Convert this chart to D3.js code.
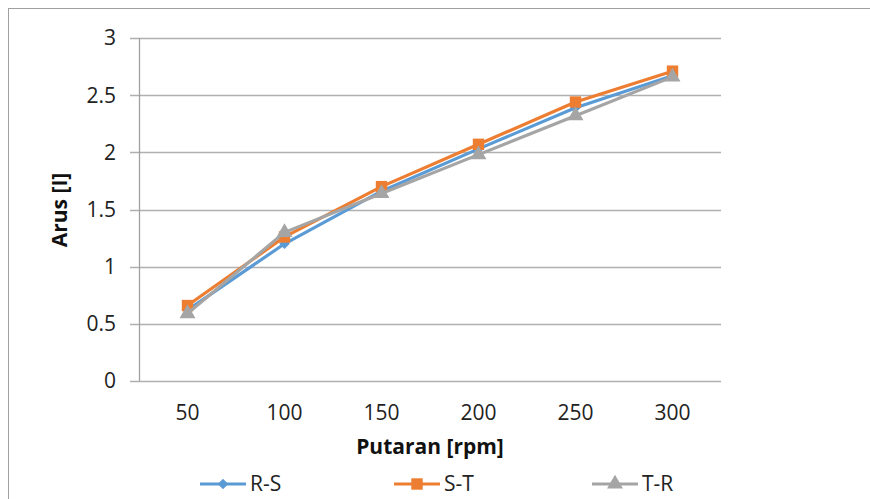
<!DOCTYPE html>
<html>
<head>
<meta charset="utf-8">
<script src="https://cdn.jsdelivr.net/npm/d3@7"></script>
<style>
  body { margin: 0; background: #fff; }
  svg { display: block; font-family: "Open Sans", "Noto Sans", sans-serif; }
</style>
</head>
<body>
<svg id="chart" width="870" height="499"></svg>
<script>
// x categories (rpm) and the three measured series
var putaran = ["50", "100", "150", "200", "250", "300"];
var rs = [0.62, 1.20, 1.66, 2.03, 2.39, 2.67];
var st = [0.66, 1.26, 1.70, 2.07, 2.44, 2.71];
var tr = [0.59, 1.30, 1.64, 1.98, 2.32, 2.66];
var yTicks = [0, 0.5, 1, 1.5, 2, 2.5, 3];

var series = [
  { name: "R-S", values: rs, color: "#5B9BD5", symbol: d3.symbolDiamond2, size: 70 },
  { name: "S-T", values: st, color: "#ED7D31", symbol: d3.symbolSquare, size: 130 },
  { name: "T-R", values: tr, color: "#A5A5A5", symbol: d3.symbolTriangle, size: 110 }
];

var svg = d3.select("#chart");

// outer chart border (only top/left visible in frame)
svg.append("rect")
  .attr("x", 8.5).attr("y", 8.5)
  .attr("width", 900).attr("height", 600)
  .attr("fill", "none").attr("stroke", "#a0a0a0");

var plotL = 139, plotR = 721, plotT = 38, plotB = 381;

var x = d3.scaleBand().domain(putaran).range([plotL, plotR]);
var y = d3.scaleLinear().domain([0, 3]).range([plotB, plotT]);

// gridlines
svg.append("g")
  .selectAll("line")
  .data(yTicks)
  .join("line")
  .attr("x1", plotL - 9).attr("x2", plotR)
  .attr("y1", function(d) { return Math.round(y(d)) + 0.5; })
  .attr("y2", function(d) { return Math.round(y(d)) + 0.5; })
  .attr("stroke", "#b0b0b0").attr("stroke-width", 1.3);

// y axis line
svg.append("line")
  .attr("x1", plotL + 0.5).attr("x2", plotL + 0.5)
  .attr("y1", plotT).attr("y2", plotB)
  .attr("stroke", "#a0a0a0").attr("stroke-width", 1.3);

// y tick labels
svg.append("g")
  .selectAll("text")
  .data(yTicks)
  .join("text")
  .attr("x", 116)
  .attr("y", function(d) { return y(d); })
  .attr("dy", "0.35em")
  .attr("text-anchor", "end")
  .attr("font-size", 21)
  .attr("fill", "#222")
  .text(function(d) { return d; });

// x tick labels
svg.append("g")
  .selectAll("text")
  .data(putaran)
  .join("text")
  .attr("x", function(d) { return x(d) + x.bandwidth() / 2; })
  .attr("y", 420)
  .attr("text-anchor", "middle")
  .attr("font-size", 21)
  .attr("fill", "#222")
  .text(function(d) { return d; });

// axis titles
svg.append("text")
  .attr("x", 430).attr("y", 454)
  .attr("text-anchor", "middle")
  .attr("font-size", 21).attr("font-weight", "bold")
  .attr("fill", "#111")
  .text("Putaran [rpm]");

svg.append("text")
  .attr("transform", "translate(67,210) rotate(-90)")
  .attr("text-anchor", "middle")
  .attr("font-size", 21).attr("font-weight", "bold")
  .attr("fill", "#111")
  .text("Arus [I]");

var line = d3.line()
  .x(function(d, i) { return x(putaran[i]) + x.bandwidth() / 2; })
  .y(function(d) { return y(d); });

series.forEach(function(s) {
  var g = svg.append("g");
  g.append("path")
    .attr("d", line(s.values))
    .attr("fill", "none")
    .attr("stroke", s.color)
    .attr("stroke-width", 3.2)
    .attr("stroke-linejoin", "round");
  g.selectAll("path.m")
    .data(s.values)
    .join("path")
    .attr("class", "m")
    .attr("d", d3.symbol().type(s.symbol).size(s.size)())
    .attr("transform", function(d, i) {
      return "translate(" + (x(putaran[i]) + x.bandwidth() / 2) + "," + y(d) + ")";
    })
    .attr("fill", s.color);
});

// legend
var legendX = [200, 394, 592];
var legend = svg.append("g")
  .selectAll("g")
  .data(series)
  .join("g")
  .attr("transform", function(d, i) { return "translate(" + legendX[i] + ",484)"; });
legend.append("line")
  .attr("x1", 0).attr("x2", 46)
  .attr("stroke", function(d) { return d.color; })
  .attr("stroke-width", 3.2);
legend.append("path")
  .attr("d", function(d) { return d3.symbol().type(d.symbol).size(d.size)(); })
  .attr("transform", "translate(23,0)")
  .attr("fill", function(d) { return d.color; });
legend.append("text")
  .attr("x", 50)
  .attr("dy", "0.35em")
  .attr("font-size", 21)
  .attr("fill", "#222")
  .text(function(d) { return d.name; });
</script>
</body>
</html>
